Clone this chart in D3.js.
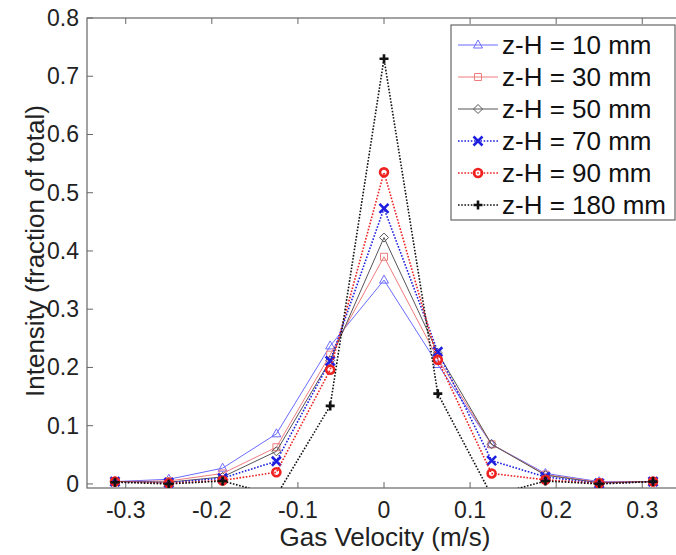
<!DOCTYPE html>
<html>
<head>
<meta charset="utf-8">
<script src="https://cdn.jsdelivr.net/npm/d3@7"></script>
<style>
  body { margin: 0; background: #fff; }
  svg { display: block; font-family: "Liberation Sans", Arial, sans-serif; }
</style>
</head>
<body>
<svg class="svg" width="676" height="555"></svg>
<script>
// gas velocity bins (m/s)
const velocities = [-0.3125, -0.25, -0.1875, -0.125, -0.0625, 0, 0.0625, 0.125, 0.1875, 0.25, 0.3125];

const z10 = [0.004, 0.008, 0.027, 0.086, 0.237, 0.350, 0.205, 0.068, 0.018, 0.004, 0.004];
const z30 = [0.004, 0.005, 0.018, 0.063, 0.222, 0.390, 0.215, 0.068, 0.016, 0.003, 0.004];
const z50 = [0.004, 0.003, 0.012, 0.056, 0.212, 0.423, 0.225, 0.068, 0.015, 0.002, 0.004];
const z70 = [0.004, 0.002, 0.010, 0.039, 0.211, 0.473, 0.227, 0.040, 0.012, 0.001, 0.004];
const z90 = [0.004, 0.001, 0.006, 0.020, 0.196, 0.535, 0.213, 0.018, 0.007, 0.001, 0.004];
const z180 = [0.003, 0.000, 0.005, -0.020, 0.134, 0.730, 0.155, -0.020, 0.005, 0.000, 0.004];

const seriesNames = ['z-H = 10 mm', 'z-H = 30 mm', 'z-H = 50 mm', 'z-H = 70 mm', 'z-H = 90 mm', 'z-H = 180 mm'];
const seriesValues = [z10, z30, z50, z70, z90, z180];

const xTicks = [-0.3, -0.2, -0.1, 0, 0.1, 0.2, 0.3];
const yTicks = [0, 0.1, 0.2, 0.3, 0.4, 0.5, 0.6, 0.7, 0.8];

// look of each series
const styles = [
    { color: '#6b6bff', width: 1, dash: null, marker: 'triangle', mw: 1 },
    { color: '#f07c7c', width: 1, dash: null, marker: 'square', mw: 1 },
    { color: '#555555', width: 1, dash: null, marker: 'diamond', mw: 1 },
    { color: '#1f1fe0', width: 1.6, dash: '1.6,1.6', marker: 'x', mw: 2.6 },
    { color: '#ee2020', width: 1.6, dash: '1.6,1.6', marker: 'circle', mw: 2.6 },
    { color: '#111111', width: 1.6, dash: '1.6,1.6', marker: 'plus', mw: 2.6 }
];

const margin = { left: 87, top: 18, right: 681, bottom: 488 };

const x = d3.scaleLinear().domain([-0.345, 0.345]).range([margin.left, margin.right]);
const y = d3.scaleLinear().domain([-0.007, 0.8]).range([margin.bottom, margin.top]);

const svg = d3.select('.svg');

svg.append('clipPath').attr('id', 'plot-clip')
    .append('rect')
    .attr('x', margin.left).attr('y', margin.top)
    .attr('width', margin.right - margin.left).attr('height', margin.bottom - margin.top);

function markerPath(type) {
    switch (type) {
        case 'triangle': return 'M0,-5L4.5,3L-4.5,3Z';
        case 'square': return 'M-3.5,-3.5H3.5V3.5H-3.5Z';
        case 'diamond': return 'M0,-4.5L4.5,0L0,4.5L-4.5,0Z';
        case 'x': return 'M-4.5,-4.5L4.5,4.5M-4.5,4.5L4.5,-4.5';
        case 'circle': return 'M4,0A4,4 0 1,1 -4,0A4,4 0 1,1 4,0Z';
        case 'plus': return 'M-4.5,0H4.5M0,-4.5V4.5';
    }
}

// axes box with inward ticks
const frame = svg.append('g').attr('stroke', '#666').attr('fill', 'none');
frame.append('rect')
    .attr('x', margin.left).attr('y', margin.top)
    .attr('width', margin.right - margin.left).attr('height', margin.bottom - margin.top)
    .attr('stroke-width', 1.2);

frame.selectAll('.xtick-b').data(xTicks).join('line').classed('xtick-b', true)
    .attr('x1', d => x(d)).attr('x2', d => x(d))
    .attr('y1', margin.bottom).attr('y2', margin.bottom - 6);
frame.selectAll('.xtick-t').data(xTicks).join('line').classed('xtick-t', true)
    .attr('x1', d => x(d)).attr('x2', d => x(d))
    .attr('y1', margin.top).attr('y2', margin.top + 6);
frame.selectAll('.ytick').data(yTicks).join('line').classed('ytick', true)
    .attr('x1', margin.left).attr('x2', margin.left + 6)
    .attr('y1', d => y(d)).attr('y2', d => y(d));

svg.selectAll('.xlabel').data(xTicks).join('text').classed('xlabel', true)
    .attr('x', d => x(d)).attr('y', 518)
    .attr('text-anchor', 'middle').attr('font-size', 23).attr('fill', '#222')
    .text(d => d === 0 ? '0' : d3.format('.1f')(d).replace('−', '-'));

svg.selectAll('.ylabel').data(yTicks).join('text').classed('ylabel', true)
    .attr('x', 79).attr('y', d => y(d) + 8)
    .attr('text-anchor', 'end').attr('font-size', 23).attr('fill', '#222')
    .text(d => d === 0 ? '0' : d3.format('.1f')(d));

svg.append('text')
    .attr('x', 385).attr('y', 546)
    .attr('text-anchor', 'middle').attr('font-size', 26).attr('fill', '#222')
    .text('Gas Velocity (m/s)');

svg.append('text')
    .attr('transform', 'translate(44,251) rotate(-90)')
    .attr('text-anchor', 'middle').attr('font-size', 26).attr('fill', '#222')
    .text('Intensity (fraction of total)');

// series lines and markers
const plot = svg.append('g').attr('clip-path', 'url(#plot-clip)');
const line = d3.line().x((d, i) => x(velocities[i])).y(d => y(d));

seriesValues.forEach((vals, k) => {
    const st = styles[k];
    plot.append('path')
        .datum(vals)
        .attr('d', line)
        .attr('fill', 'none')
        .attr('stroke', st.color)
        .attr('stroke-width', st.width)
        .attr('stroke-dasharray', st.dash);

    plot.selectAll(`.mk-${k}`).data(vals).join('path').classed(`mk-${k}`, true)
        .attr('transform', (d, i) => `translate(${x(velocities[i])},${y(d)})`)
        .attr('d', markerPath(st.marker))
        .attr('fill', 'none')
        .attr('stroke', st.color)
        .attr('stroke-width', st.mw);
});

// legend
const legend = svg.append('g').attr('transform', 'translate(451,25)');
legend.append('rect')
    .attr('width', 224).attr('height', 195)
    .attr('fill', '#fff').attr('stroke', '#666').attr('stroke-width', 1.2);

const rows = legend.selectAll('.leg-row').data(seriesNames).join('g').classed('leg-row', true)
    .attr('transform', (d, i) => `translate(0,${20 + i * 32})`);

rows.append('line')
    .attr('x1', 7).attr('x2', 47).attr('y1', 0).attr('y2', 0)
    .attr('stroke', (d, i) => styles[i].color)
    .attr('stroke-width', (d, i) => styles[i].width)
    .attr('stroke-dasharray', (d, i) => styles[i].dash);

rows.append('path')
    .attr('transform', 'translate(27,0)')
    .attr('d', (d, i) => markerPath(styles[i].marker))
    .attr('fill', 'none')
    .attr('stroke', (d, i) => styles[i].color)
    .attr('stroke-width', (d, i) => styles[i].mw);

rows.append('text')
    .attr('x', 51).attr('y', 9)
    .attr('font-size', 26).attr('fill', '#111')
    .text(d => d);
</script>
</body>
</html>
